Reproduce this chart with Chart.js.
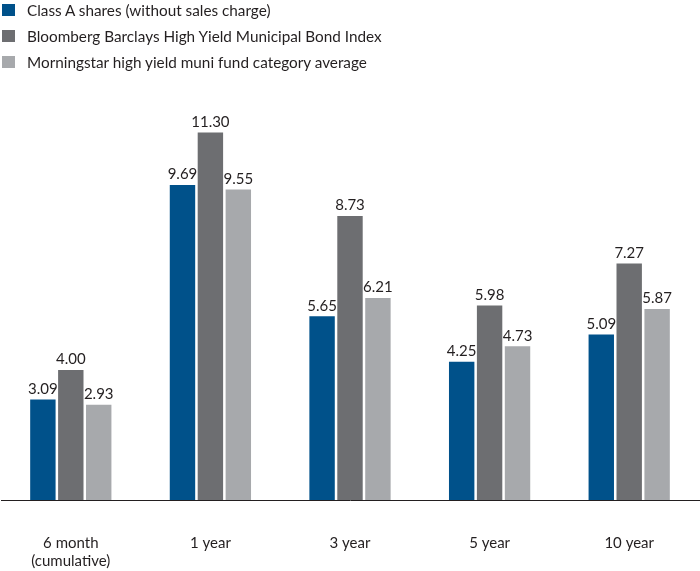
<!DOCTYPE html>
<html>
<head>
<meta charset="utf-8">
<script src="https://cdn.jsdelivr.net/npm/chart.js@4"></script>
<style>
  html, body { margin: 0; padding: 0; background: #fff; }
  #wrap { position: relative; width: 700px; height: 571px; }
  #legend { position: absolute; left: 2px; top: -3px; font-family: Lato, sans-serif; font-size: 15.3px; color: #231f20; }
  .item { height: 26px; display: flex; align-items: center; }
  .box { width: 13px; height: 12px; margin-right: 12px; }
</style>
</head>
<body>
<div id="wrap">
  <canvas id="bar-chart" width="700" height="571"></canvas>
  <div id="legend"></div>
</div>
<script>
const categories = [['6 month', '(cumulative)'], '1 year', '3 year', '5 year', '10 year'];
const seriesNames = [
  'Class A shares (without sales charge)',
  'Bloomberg Barclays High Yield Municipal Bond Index',
  'Morningstar high yield muni fund category average'
];
const classA = [3.09, 9.69, 5.65, 4.25, 5.09];
const bondIndex = [4.00, 11.30, 8.73, 5.98, 7.27];
const categoryAvg = [2.93, 9.55, 6.21, 4.73, 5.87];
const colors = ['#00518a', '#6d6e71', '#a7a9ac'];

const legend = document.getElementById('legend');
seriesNames.forEach(function(name, i){
  const row = document.createElement('div');
  row.className = 'item';
  row.innerHTML = '<span class="box" style="background:' + colors[i] + '"></span>' + name;
  legend.appendChild(row);
});

const valueLabels = {
  id: 'valueLabels',
  afterDatasetsDraw(chart){
    const ctx = chart.ctx;
    ctx.save();
    ctx.font = '15px Lato, sans-serif';
    ctx.fillStyle = '#231f20';
    ctx.textAlign = 'center';
    ctx.textBaseline = 'bottom';
    chart.data.datasets.forEach(function(ds, i){
      chart.getDatasetMeta(i).data.forEach(function(bar, j){
        ctx.fillText(ds.data[j].toFixed(2), bar.x, bar.y - 3);
      });
    });
    ctx.restore();
  }
};

const config = {
  type: 'bar',
  data: {
    labels: categories,
    datasets: [
      { label: seriesNames[0], data: classA, backgroundColor: colors[0] },
      { label: seriesNames[1], data: bondIndex, backgroundColor: colors[1] },
      { label: seriesNames[2], data: categoryAvg, backgroundColor: colors[2] }
    ]
  },
  options: {
    responsive: false,
    animation: false,
    layout: { padding: { left: 1, right: 1, top: 100, bottom: 0 } },
    datasets: { bar: { categoryPercentage: 0.6, barPercentage: 0.91 } },
    plugins: {
      legend: { display: false },
      tooltip: { enabled: false }
    },
    scales: {
      x: {
        grid: { display: false },
        border: { display: true, color: '#231f20', width: 1 },
        ticks: { color: '#231f20', padding: 26, font: { family: 'Lato, sans-serif', size: 15 } },
        afterFit(scale){ scale.height = 71; }
      },
      y: {
        display: false,
        min: 0,
        max: 12.3
      }
    }
  },
  plugins: [valueLabels]
};

const ctx = document.getElementById('bar-chart').getContext('2d');
new Chart(ctx, config);
</script>
</body>
</html>
